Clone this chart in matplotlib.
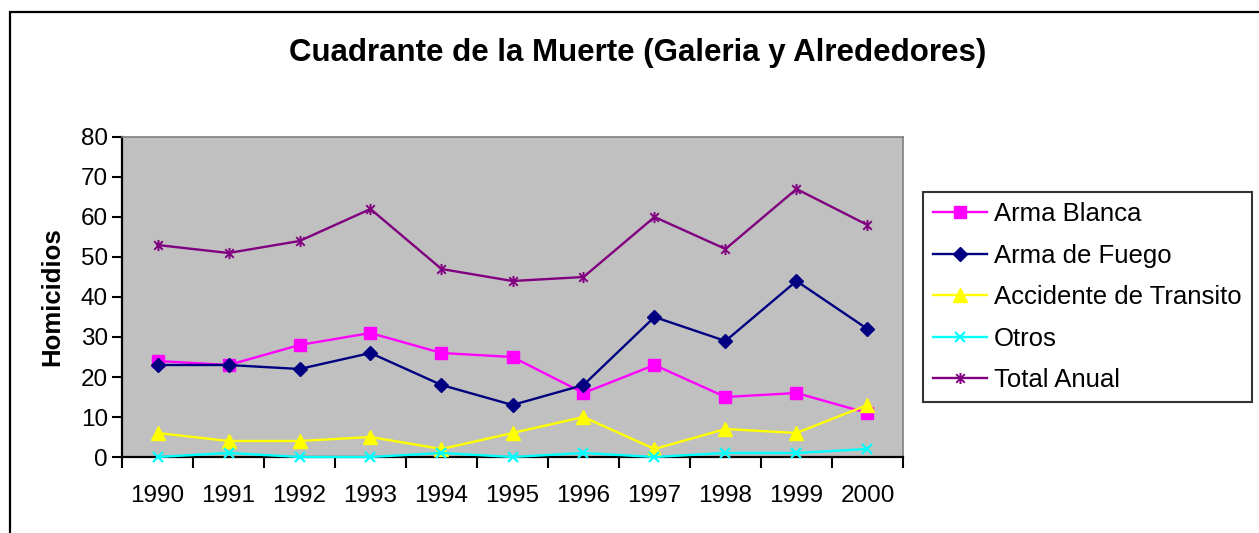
import numpy as np
import matplotlib.pyplot as plt
from matplotlib.patches import Rectangle
from matplotlib.path import Path

plt.rcParams['font.family'] = ['Liberation Sans', 'DejaVu Sans']

# datos
anios = ['1990', '1991', '1992', '1993', '1994', '1995', '1996', '1997', '1998', '1999', '2000']
arma_blanca = [24, 23, 28, 31, 26, 25, 16, 23, 15, 16, 11]
arma_fuego = [23, 23, 22, 26, 18, 13, 18, 35, 29, 44, 32]
accidente = [6, 4, 4, 5, 2, 6, 10, 2, 7, 6, 13]
otros = [0, 1, 0, 0, 1, 0, 1, 0, 1, 1, 2]
total = [53, 51, 54, 62, 47, 44, 45, 60, 52, 67, 58]

# marcador estrella tipo Excel (x + linea vertical)
star = Path([(-1, -1), (1, 1), (-1, 1), (1, -1), (0, -1.3), (0, 1.3)],
            [Path.MOVETO, Path.LINETO, Path.MOVETO, Path.LINETO, Path.MOVETO, Path.LINETO])

fig = plt.figure(figsize=(12.59, 5.33), dpi=100)
ax = fig.add_axes([122 / 1259, 1 - 457 / 533, 781 / 1259, 320 / 533])
ax.set_facecolor('#C0C0C0')

x = np.arange(len(anios))
kw = dict(lw=1.7, clip_on=False, zorder=3)
ax.plot(x, arma_blanca, color='#FF00FF', marker='s', ms=8, label='Arma Blanca', **kw)
ax.plot(x, arma_fuego, color='#000080', marker='D', ms=7.5, label='Arma de Fuego', **kw)
ax.plot(x, accidente, color='#FFFF00', marker='^', ms=10, label='Accidente de Transito', **kw)
ax.plot(x, otros, color='#00FFFF', marker='x', ms=6.5, mew=1.6, label='Otros', **kw)
ax.plot(x, total, color='#800080', marker=star, ms=8, mew=1.4, label='Total Anual', **kw)

ax.set_xlim(-0.5, len(anios) - 0.5)
ax.set_ylim(0, 80)
ax.set_yticks(range(0, 81, 10))
ax.set_xticks(x)
ax.set_xticklabels(anios)
ax.set_xticks(np.arange(-0.5, len(anios)), minor=True)
ax.tick_params(axis='x', which='major', length=0, pad=20, labelsize=17.5)
ax.tick_params(axis='x', which='minor', length=8, width=1.5, direction='out')
ax.tick_params(axis='y', length=7, width=1.5, labelsize=17.5, pad=3)

for s in ['left', 'bottom']:
    ax.spines[s].set_linewidth(1.6)
    ax.spines[s].set_color('black')
for s in ['top', 'right']:
    ax.spines[s].set_linewidth(1.2)
    ax.spines[s].set_color('#808080')

ax.set_ylabel('Homicidios', fontsize=18.5, fontweight='bold', labelpad=12)

fig.text(638 / 1259, 1 - 53 / 533, 'Cuadrante de la Muerte (Galeria y Alrededores)',
         ha='center', va='center', fontsize=22.5, fontweight='bold')

leg = ax.legend(loc='upper left', bbox_to_anchor=(923 / 1259, 1 - 192 / 533),
                bbox_transform=fig.transFigure, fontsize=18.5, frameon=True,
                fancybox=False, handlelength=2.1, handletextpad=0.27,
                labelspacing=0.68, borderpad=0.4, borderaxespad=0)
leg.get_frame().set_edgecolor('black')
leg.get_frame().set_linewidth(1.5)

# marco exterior del grafico
fig.patches.append(Rectangle((10 / 1259, -0.1), 1.2, 1 - 12 / 533 + 0.1,
                             transform=fig.transFigure, fill=False,
                             edgecolor='black', lw=1.6))

fig.savefig('out.png', dpi=100)
